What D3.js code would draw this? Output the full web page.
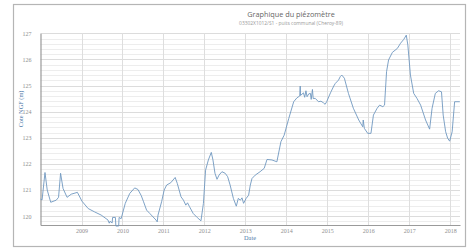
<!DOCTYPE html>
<html>
<head>
<meta charset="utf-8">
<script src="https://cdn.jsdelivr.net/npm/d3@7"></script>
<style>
  body { margin: 0; background: #fff; }
  text { font-family: "Open Sans", sans-serif; }
</style>
</head>
<body>
<div id="chart"></div>
<script>
// piezometer readings
const dates = [
  "2008-01-01","2008-01-15","2008-02-10","2008-03-01","2008-04-01","2008-05-20","2008-06-10","2008-06-28",
  "2008-07-20","2008-08-25","2008-10-01","2008-11-25","2009-01-05","2009-03-01","2009-04-28","2009-06-25",
  "2009-08-25","2009-09-05","2009-09-12","2009-10-01","2009-10-05","2009-10-30","2009-11-03","2009-11-28",
  "2009-12-02","2009-12-20","2010-01-26","2010-03-07","2010-04-20","2010-05-19","2010-06-18","2010-07-08",
  "2010-08-04","2010-09-02","2010-10-27","2010-11-07","2010-11-14","2010-12-16","2011-01-08","2011-01-30",
  "2011-03-08","2011-04-16","2011-05-05","2011-06-07","2011-06-29","2011-07-20","2011-08-04","2011-08-22",
  "2011-09-24","2011-10-31","2011-12-02","2011-12-24","2012-01-12","2012-02-06","2012-03-03","2012-03-18",
  "2012-04-05","2012-04-23","2012-05-11","2012-06-06","2012-07-05","2012-07-27","2012-08-18","2012-09-16",
  "2012-10-12","2012-10-30","2012-11-17","2012-12-02","2012-12-16","2013-01-08","2013-01-30","2013-02-14",
  "2013-03-01","2013-03-30","2013-05-12","2013-06-18","2013-07-13","2013-08-26","2013-10-09","2013-11-14",
  "2013-12-13","2014-01-23","2014-03-08","2014-04-06","2014-05-01","2014-05-05","2014-05-08","2014-06-03",
  "2014-06-14","2014-06-25","2014-07-05","2014-07-20","2014-08-04","2014-08-11","2014-08-22","2014-08-29",
  "2014-09-16","2014-10-15","2014-11-06","2014-11-28","2014-12-13","2014-12-27","2015-01-30","2015-02-28",
  "2015-03-14","2015-04-12","2015-04-27","2015-05-11","2015-06-03","2015-07-09","2015-08-22","2015-10-09",
  "2015-11-14","2015-11-18","2015-11-28","2015-12-28","2016-01-26","2016-02-17","2016-03-21","2016-04-12",
  "2016-05-11","2016-05-26","2016-06-13","2016-07-01","2016-08-04","2016-09-17","2016-10-16","2016-11-14",
  "2016-12-06","2016-12-20","2017-01-12","2017-02-10","2017-03-11","2017-04-13","2017-05-27","2017-07-02",
  "2017-07-24","2017-08-22","2017-09-20","2017-10-16","2017-10-31","2017-11-22","2017-12-10","2017-12-28",
  "2018-01-19","2018-02-10","2018-03-28"
];
const levels = [
  120.65,120.62,121.67,121.00,120.53,120.61,120.72,121.64,
  121.06,120.72,120.84,120.91,120.57,120.29,120.16,120.04,
  119.85,119.73,119.80,119.74,119.95,119.95,119.62,119.62,
  119.95,119.90,120.49,120.87,121.08,121.02,120.78,120.55,
  120.23,120.10,119.85,119.78,120.04,120.55,121.00,121.19,
  121.28,121.48,121.25,120.74,120.61,120.42,120.51,120.36,
  120.10,119.94,119.82,120.49,121.76,122.15,122.44,122.15,
  121.64,121.41,121.57,121.70,121.64,121.51,121.19,120.68,
  120.38,120.68,120.61,120.70,120.49,120.68,120.80,121.19,
  121.44,121.57,121.70,121.83,122.17,122.15,122.08,122.85,
  123.10,123.74,124.38,124.53,124.60,124.98,124.62,124.72,
  124.55,124.80,124.57,124.68,124.70,124.47,124.85,124.50,
  124.51,124.38,124.40,124.34,124.28,124.38,124.72,124.98,
  125.08,125.21,125.34,125.40,125.28,124.70,124.13,123.68,
  123.42,123.68,123.36,123.17,123.17,123.87,124.13,124.25,
  124.19,124.25,125.53,125.98,126.27,126.42,126.62,126.77,
  126.93,126.55,125.40,124.70,124.51,124.25,123.68,123.33,
  124.13,124.70,124.80,124.76,123.87,123.23,122.98,122.87,
  123.23,124.38,124.38
];
const yTicks = [120, 121, 122, 123, 124, 125, 126, 127];
const xTickYears = [2009, 2010, 2011, 2012, 2013, 2014, 2015, 2016, 2017, 2018];

const W = 469, H = 250;
const plot = {l: 40.5, r: 460, t: 33.3, b: 225};
const tickFont = "Liberation Serif, serif";

const parse = d3.timeParse("%Y-%m-%d");
const data = dates.map((d, i) => ({date: parse(d), v: levels[i]}));

const svg = d3.select("#chart").append("svg")
    .attr("width", W)
    .attr("height", H);

svg.append("rect")
    .attr("width", W).attr("height", H)
    .attr("fill", "#fff");

// outer frame
svg.append("rect")
    .attr("x", 13.5).attr("y", 4.5)
    .attr("width", 452).attr("height", 242)
    .attr("fill", "none")
    .attr("stroke", "#b5b5b5")
    .attr("stroke-width", 1.2);

const x = d3.scaleTime()
    .domain([new Date(2008, 0, 1), new Date(2018, 2, 30)])
    .range([plot.l, plot.r]);
const y = d3.scaleLinear()
    .domain([119.66, 127])
    .range([plot.b, plot.t]);

// minor grid every 0.2
const minor = d3.range(119.8, 127.001, 0.2).map(v => +v.toFixed(1));
svg.append("g")
    .selectAll("line")
    .data(minor)
    .join("line")
    .attr("x1", plot.l).attr("x2", plot.r)
    .attr("y1", d => Math.round(y(d)) + 0.5)
    .attr("y2", d => Math.round(y(d)) + 0.5)
    .attr("stroke", d => Number.isInteger(d) ? "#dcdcdc" : "#ededed")
    .attr("stroke-width", 1);

// vertical grid on years
const xTicks = xTickYears.map(yr => new Date(yr, 0, 1));
svg.append("g")
    .selectAll("line")
    .data(xTicks)
    .join("line")
    .attr("x1", d => Math.round(x(d)) + 0.5)
    .attr("x2", d => Math.round(x(d)) + 0.5)
    .attr("y1", plot.t).attr("y2", plot.b)
    .attr("stroke", "#dedede");

// axes
const axisY = d3.axisLeft(y).tickValues(yTicks).tickSize(0).tickPadding(9).tickFormat(d3.format("d"));
const gy = svg.append("g")
    .attr("transform", `translate(${plot.l},0)`)
    .call(axisY);
const axisX = d3.axisBottom(x).tickValues(xTicks).tickSize(0).tickPadding(4).tickFormat(d3.timeFormat("%Y"));
const gx = svg.append("g")
    .attr("transform", `translate(0,${plot.b})`)
    .call(axisX);

[gx, gy].forEach(g => {
    g.select(".domain").attr("stroke", "#9a9a9a").attr("stroke-width", 1.2);
    g.selectAll(".tick text")
        .attr("fill", "#8f8f8f")
        .style("font-size", "6px")
        .style("font-family", tickFont);
});

// the line
const line = d3.line()
    .x(d => x(d.date))
    .y(d => y(d.v));
svg.append("path")
    .datum(data)
    .attr("d", line)
    .attr("fill", "none")
    .attr("stroke", "#6f97bf")
    .attr("stroke-width", 0.9)
    .attr("stroke-linejoin", "round");

// titles
svg.append("text")
    .attr("x", 291).attr("y", 16.5)
    .attr("text-anchor", "middle")
    .attr("fill", "#666")
    .style("font-size", "7.3px")
    .text("Graphique du piézomètre");
svg.append("text")
    .attr("x", 291).attr("y", 24.5)
    .attr("text-anchor", "middle")
    .attr("fill", "#999")
    .style("font-size", "4.9px")
    .text("03302X1012/S1 - puits communal (Cheroy-89)");

svg.append("text")
    .attr("transform", `translate(23,109) rotate(-90)`)
    .attr("text-anchor", "middle")
    .attr("fill", "#5079a8")
    .style("font-size", "6.3px")
    .style("font-family", tickFont)
    .text("Cote NGF (m)");
svg.append("text")
    .attr("x", 250).attr("y", 240)
    .attr("text-anchor", "middle")
    .attr("fill", "#5079a8")
    .style("font-size", "6.3px")
    .style("font-family", tickFont)
    .text("Date");
</script>
</body>
</html>
